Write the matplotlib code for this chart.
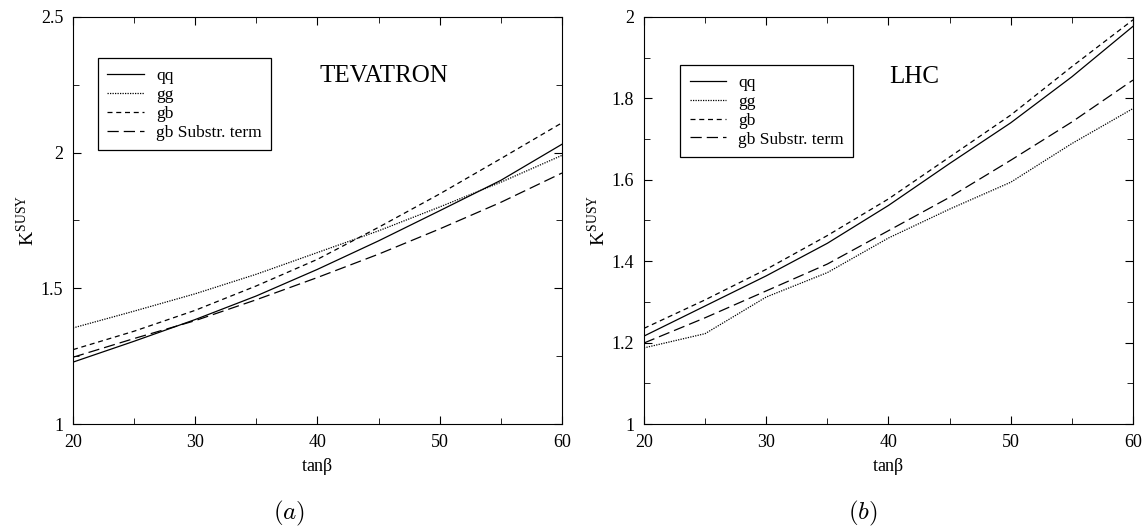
import matplotlib
matplotlib.use('Agg')
import matplotlib.pyplot as plt
from matplotlib.ticker import MultipleLocator, FormatStrFormatter

plt.rcParams['font.family'] = ['Liberation Serif', 'DejaVu Serif']
plt.rcParams['mathtext.fontset'] = 'cm'

tanb = [20, 25, 30, 35, 40, 45, 50, 55, 60]

# TEVATRON
tev_qq = [1.228, 1.305, 1.385, 1.472, 1.570, 1.675, 1.786, 1.898, 2.031]
tev_gg = [1.354, 1.416, 1.480, 1.552, 1.632, 1.712, 1.800, 1.891, 1.990]
tev_gb = [1.274, 1.342, 1.419, 1.509, 1.607, 1.725, 1.848, 1.978, 2.110]
tev_sub = [1.246, 1.315, 1.381, 1.458, 1.540, 1.626, 1.719, 1.817, 1.925]

# LHC
lhc_qq = [1.216, 1.290, 1.364, 1.444, 1.537, 1.640, 1.740, 1.853, 1.977]
lhc_gg = [1.187, 1.222, 1.312, 1.372, 1.457, 1.528, 1.594, 1.689, 1.775]
lhc_gb = [1.235, 1.305, 1.380, 1.463, 1.553, 1.656, 1.759, 1.878, 1.993]
lhc_sub = [1.199, 1.261, 1.327, 1.393, 1.475, 1.557, 1.648, 1.742, 1.845]

labels = ['qq', 'gg', 'gb', 'gb Substr. term']
styles = ['-', (0, (1, 1)), (0, (4, 3)), (0, (9, 4))]


def draw(ax, series, title, title_xy, ylim, ymaj, ymin, leg_box, caption, cap_x):
    for ys, ls, lab in zip(series, styles, labels):
        ax.plot(tanb, ys, color='k', lw=0.9, linestyle=ls, label=lab)
    ax.set_xlim(20, 60)
    ax.set_ylim(*ylim)
    ax.xaxis.set_major_locator(MultipleLocator(10))
    ax.xaxis.set_minor_locator(MultipleLocator(5))
    ax.yaxis.set_major_locator(MultipleLocator(ymaj))
    ax.yaxis.set_minor_locator(MultipleLocator(ymin))
    ax.yaxis.set_major_formatter(FormatStrFormatter('%g'))
    ax.tick_params(which='both', direction='in', top=True, right=True,
                   labelsize=13, pad=7)
    ax.tick_params(which='major', length=6)
    ax.tick_params(which='minor', length=4)
    ax.set_xlabel(r'tan$\mathregular{\beta}$', fontsize=13, labelpad=4)
    ax.set_ylabel(r'K$^{\mathregular{SUSY}}$', fontsize=14, labelpad=2)
    ax.text(title_xy[0], title_xy[1], title, transform=ax.transAxes, fontsize=18,
            ha='left', va='center')
    leg = ax.legend(loc='upper left', bbox_to_anchor=leg_box, fontsize=12.5,
                    frameon=True, fancybox=False, edgecolor='k', framealpha=1,
                    handlelength=2.1, borderpad=0.55, labelspacing=0.16,
                    handletextpad=0.7, borderaxespad=0)
    leg.get_frame().set_linewidth(0.9)
    fig.text(cap_x, 13 / 526, caption, fontsize=18, ha='center', va='center')


fig = plt.figure(figsize=(11.42, 5.26), dpi=100)
ax1 = fig.add_axes([0.0639, 0.1939, 0.4282, 0.7738])
ax2 = fig.add_axes([0.5639, 0.1939, 0.4282, 0.7738])

draw(ax1, [tev_qq, tev_gg, tev_gb, tev_sub], 'TEVATRON', (0.505, 0.855),
     (1, 2.5), 0.5, 0.25, (0.051, 0.899), r'$(a)$', 289 / 1142)
draw(ax2, [lhc_qq, lhc_gg, lhc_gb, lhc_sub], 'LHC', (0.501, 0.853),
     (1, 2), 0.2, 0.1, (0.074, 0.882), r'$(b)$', 863 / 1142)

fig.savefig('out.png', dpi=100)
